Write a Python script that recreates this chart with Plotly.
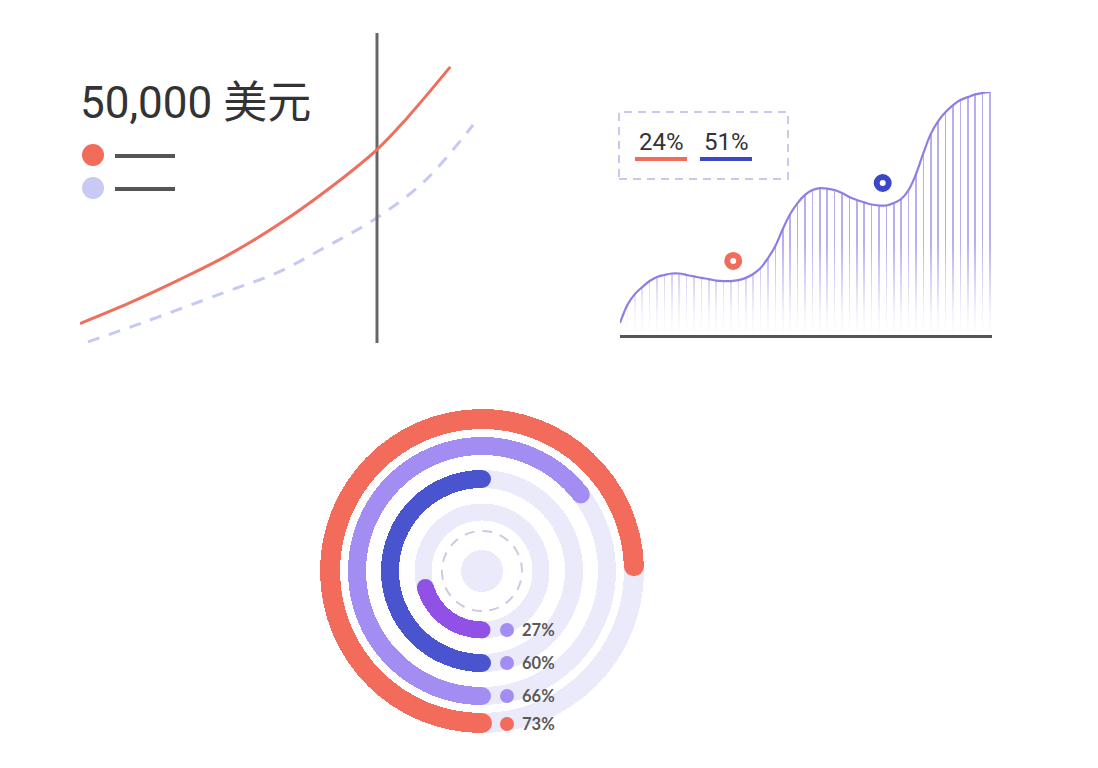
import plotly.graph_objects as go

# the page puts the plot 8px in from the top-left corner
PAGE_OFFSET = 8
W, H = 1098 - 2 * PAGE_OFFSET, 768 - 2 * PAGE_OFFSET

# Panel 1: growth curves (x in years, y in thousand USD)
years_a = [0, 2.5, 5, 7.5, 10, 12.5, 15, 16.5, 18.7]
value_a = [5.0, 10.3, 16.2, 22.6, 30.3, 39.3, 49.6, 57.6, 70.8]
years_b = [0.4, 3.1, 7.2, 9.9, 12.4, 14.9, 17.4, 19.85]
value_b = [0.3, 5.1, 12.8, 17.9, 24.6, 31.8, 41.5, 55.9]
marker_year = 15
title_text = "50,000 美元"

# Panel 2: wave series (one value per hatch line)
wave = [5.0, 12.4, 16.9, 19.8, 22.3, 24.0, 24.8, 25.4, 25.4, 24.8,
        24.2, 23.6, 23.1, 22.5, 22.3, 22.3, 22.7, 23.6, 25.2, 27.7,
        31.8, 36.8, 43.8, 50.0, 54.5, 57.9, 59.9, 60.7, 60.5, 59.9,
        58.7, 57.0, 55.8, 54.8, 53.9, 53.5, 53.5, 54.5, 56.2, 59.9,
        66.5, 75.2, 83.1, 88.4, 92.1, 95.0, 97.1, 98.3, 99.4, 100.0, 100.4]
points_x = [15.3, 35.5]
points_y = [30.6, 62.8]
legend_labels = ["24%", "51%"]

# Panel 3: radial bars (share of circle as drawn) and printed labels
ring_labels = ["27%", "60%", "66%", "73%"]
ring_fill = [20.5, 50, 64.5, 74.5]

coral = "#F26B5B"
ring_colors = ["#9150E6", "#4A54CF", "#A38CF2", coral]
dot_colors = ["#A38CF2", "#A38CF2", "#A38CF2", coral]
ring_radius = [59, 92, 125, 152]
ring_width = [17, 18, 18, 20]
track = "#EAEAFB"


def px_x(p):
    return (p - PAGE_OFFSET) / W


def px_y(p):
    return 1 - (p - PAGE_OFFSET) / H


fig = go.Figure()

# ---- panel 1
fig.add_trace(go.Scatter(x=years_b, y=value_b, mode="lines", line_shape="spline",
                         line=dict(color="#C5C9F3", width=3, dash="12px,10px"),
                         xaxis="x", yaxis="y", showlegend=False))
fig.add_trace(go.Scatter(x=[marker_year, marker_year], y=[0, 79.5], mode="lines",
                         line=dict(color="#666666", width=3),
                         xaxis="x", yaxis="y", showlegend=False))
fig.add_trace(go.Scatter(x=years_a, y=value_a, mode="lines", line_shape="spline",
                         line=dict(color="#EF6F5E", width=3),
                         xaxis="x", yaxis="y", showlegend=False))

# ---- panel 2
idx = list(range(len(wave)))
fig.add_trace(go.Bar(x=idx, y=wave, width=0.24, marker_color="rgba(160,148,235,0.75)",
                     marker_line_width=0, xaxis="x2", yaxis="y2", showlegend=False))
fig.add_trace(go.Scatter(x=[-0.5, len(wave) - 0.5], y=[38, 38], mode="lines",
                         line=dict(width=0), fill="tozeroy",
                         fillgradient=dict(type="vertical",
                                           colorscale=[[0, "rgba(255,255,255,1)"],
                                                       [0.25, "rgba(255,255,255,0.85)"],
                                                       [1, "rgba(255,255,255,0)"]]),
                         xaxis="x2", yaxis="y2", showlegend=False, hoverinfo="skip"))
fig.add_trace(go.Scatter(x=idx, y=wave, mode="lines", line_shape="spline",
                         line=dict(color="#8C7FE3", width=2.2), cliponaxis=False,
                         xaxis="x2", yaxis="y2", showlegend=False))
fig.add_trace(go.Scatter(x=points_x, y=points_y, mode="markers", cliponaxis=False,
                         marker=dict(size=12, color="white",
                                     line=dict(color=[coral, "#3C46C8"], width=6)),
                         xaxis="x2", yaxis="y2", showlegend=False))

# ---- panel 3
for r, w in zip(ring_radius, ring_width):
    fig.add_trace(go.Barpolar(r=[w], base=[r - w / 2], theta=[180], width=[360],
                              marker_color=track, marker_line_width=0, showlegend=False))
fig.add_trace(go.Barpolar(r=[21], base=[0], theta=[180], width=[360],
                          marker_color=track, marker_line_width=0, showlegend=False))
circle_theta = [i * 5 for i in range(73)]
fig.add_trace(go.Scatterpolar(r=[40] * len(circle_theta), theta=circle_theta, mode="lines",
                              line=dict(color="#C9CBE6", width=2, dash="10px,8px"),
                              showlegend=False))
for f, r, w, c in zip(ring_fill, ring_radius, ring_width, ring_colors):
    sweep = f * 3.6
    fig.add_trace(go.Barpolar(r=[w], base=[r - w / 2], theta=[sweep / 2], width=[sweep],
                              marker_color=c, marker_line_width=0, showlegend=False))
    fig.add_trace(go.Scatterpolar(r=[r, r], theta=[0, sweep], mode="markers",
                                  marker=dict(size=w, color=c, line_width=0),
                                  showlegend=False))

shapes = []
annotations = []

# panel 1 legend + title
annotations.append(dict(text=title_text, x=px_x(78), y=px_y(103), xref="paper", yref="paper",
                        xanchor="left", yanchor="middle", showarrow=False,
                        font=dict(size=44, color="#333333",
                                  family="Roboto, 'Noto Sans CJK SC'")))
for yy, col in [(155, coral), (188, "#C8CAF5")]:
    shapes.append(dict(type="circle", xref="paper", yref="paper",
                       x0=px_x(82), x1=px_x(104), y0=px_y(yy + 11), y1=px_y(yy - 11),
                       fillcolor=col, line_width=0))
    shapes.append(dict(type="line", xref="paper", yref="paper",
                       x0=px_x(115), x1=px_x(175), y0=px_y(yy + 1), y1=px_y(yy + 1),
                       line=dict(color="#555555", width=4)))

# panel 2 legend box
shapes.append(dict(type="rect", xref="paper", yref="paper",
                   x0=px_x(619), x1=px_x(788), y0=px_y(179), y1=px_y(112),
                   line=dict(color="#C9C9EC", width=2, dash="8px,6px")))
for cx, lab, col in zip([661, 726], legend_labels, [coral, "#3C46C8"]):
    annotations.append(dict(text=lab, x=px_x(cx), y=px_y(142), xref="paper", yref="paper",
                            xanchor="center", yanchor="middle", showarrow=False,
                            font=dict(size=24, color="#333333", family="Roboto")))
    shapes.append(dict(type="line", xref="paper", yref="paper",
                       x0=px_x(cx - 26), x1=px_x(cx + 26), y0=px_y(159), y1=px_y(159),
                       line=dict(color=col, width=4)))

# panel 3 labels
for yy, lab, col in zip([630, 663, 696, 724], ring_labels, dot_colors):
    shapes.append(dict(type="circle", xref="paper", yref="paper",
                       x0=px_x(500), x1=px_x(514), y0=px_y(yy + 7), y1=px_y(yy - 7),
                       fillcolor=col, line_width=0))
    annotations.append(dict(text="<b>" + lab + "</b>", x=px_x(520), y=px_y(yy),
                            xref="paper", yref="paper", xanchor="left", yanchor="middle",
                            showarrow=False,
                            font=dict(size=16.5, color="#5A5A5A", family="Lato")))

axis_off = dict(visible=False, fixedrange=True)
fig.update_layout(
    width=W, height=H, margin=dict(l=0, r=0, t=0, b=0),
    paper_bgcolor="white", plot_bgcolor="rgba(0,0,0,0)",
    xaxis=dict(domain=[px_x(80), px_x(480)], range=[0, 400 / 19.8], **axis_off),
    yaxis=dict(domain=[px_y(343), px_y(33)], range=[0, 79.5], **axis_off),
    xaxis2=dict(domain=[px_x(620), px_x(992)], range=[0, 50.27], anchor="y2",
                showline=True, linecolor="#555555", linewidth=3,
                showgrid=False, zeroline=False, showticklabels=False, ticks=""),
    yaxis2=dict(domain=[px_y(335), px_y(92)], range=[0, 100.4], anchor="x2", **axis_off),
    polar=dict(domain=dict(x=[px_x(482 - 170), px_x(482 + 170)],
                           y=[px_y(571 + 170), px_y(571 - 170)]),
               bgcolor="rgba(0,0,0,0)", hole=0,
               radialaxis=dict(range=[0, 170], visible=False),
               angularaxis=dict(rotation=-90, direction="clockwise", visible=False)),
    bargap=0, shapes=shapes, annotations=annotations,
)

fig.write_html("out.html")
